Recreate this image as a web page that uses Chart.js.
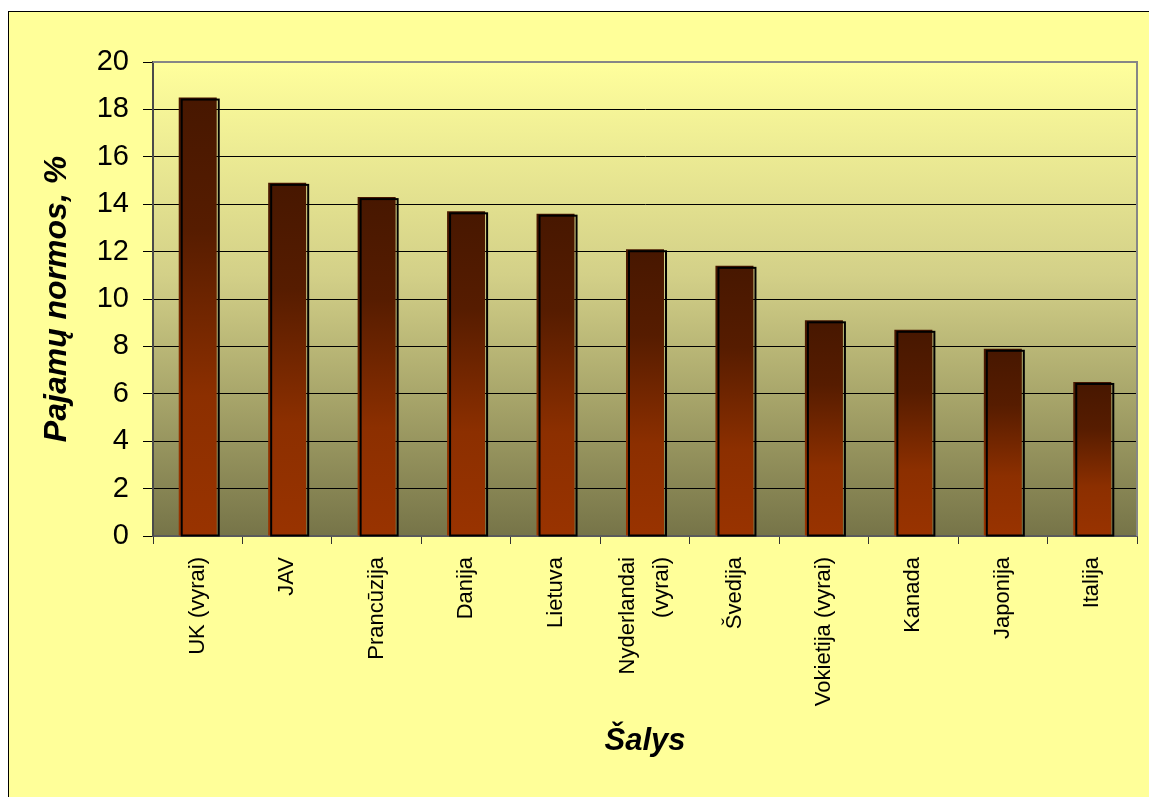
<!DOCTYPE html>
<html>
<head>
<meta charset="utf-8">
<script src="https://cdn.jsdelivr.net/npm/chart.js@4"></script>
<style>
  html, body { margin: 0; padding: 0; background: #fff; }
  #grafikas { position: absolute; left: 0; top: 0; }
</style>
</head>
<body>
<canvas id="grafikas" width="1149" height="797"></canvas>
<script>
const salys = ['UK (vyrai)', 'JAV', 'Prancūzija', 'Danija', 'Lietuva', ['Nyderlandai', '(vyrai)'],
  'Švedija', 'Vokietija (vyrai)', 'Kanada', 'Japonija', 'Italija'];
const normos = [18.5, 14.9, 14.3, 13.7, 13.6, 12.1, 11.4, 9.1, 8.7, 7.9, 6.5];
const yMin = 0, yMax = 20, yStep = 2;

const font = 'Arial, "Liberation Sans", sans-serif';
const canvas = document.getElementById('grafikas');

// fonas, remelis ir braizymo srities gradientas
const fonas = {
  id: 'fonas',
  beforeDraw(chart) {
    const { ctx, chartArea: a } = chart;
    ctx.save();
    ctx.fillStyle = '#ffffff';
    ctx.fillRect(0, 0, chart.width, chart.height);
    ctx.fillStyle = '#ffff99';
    ctx.fillRect(8, 11, chart.width, chart.height);
    ctx.strokeStyle = '#000';
    ctx.lineWidth = 1;
    ctx.strokeRect(8.5, 11.5, chart.width + 10, chart.height + 10);

    const g = ctx.createLinearGradient(0, a.top, 0, a.bottom);
    g.addColorStop(0, '#ffff9c');
    g.addColorStop(0.45, '#d3d088');
    g.addColorStop(1, '#767448');
    ctx.fillStyle = g;
    ctx.fillRect(a.left, a.top, a.right - a.left, a.bottom - a.top);
    ctx.restore();

    // dvieiliu etikeciu centravimas
    const x = chart.scales.x;
    x.getLabelItems().forEach(it => {
      if (Array.isArray(it.label) && it.label.length > 1 && !it.centruota) {
        const lh = it.font.lineHeight;
        it.options.translation[0] -= (it.label.length - 1) * lh / 2;
        it.centruota = true;
      }
    });
  },
  beforeDatasetsDraw(chart) {
    const { ctx, chartArea: a } = chart;
    ctx.save();
    ctx.strokeStyle = '#868686';
    ctx.lineWidth = 2;
    ctx.beginPath();
    ctx.moveTo(a.left, a.top);
    ctx.lineTo(a.right, a.top);
    ctx.lineTo(a.right, a.bottom);
    ctx.stroke();
    ctx.restore();
  },
  afterDatasetsDraw(chart) {
    // stulpeliu "3D" remelis
    const { ctx } = chart;
    ctx.save();
    ctx.strokeStyle = '#000';
    ctx.lineWidth = 2;
    chart.getDatasetMeta(0).data.forEach(b => {
      const l = b.x - b.width / 2;
      ctx.strokeRect(l + 3, b.y + 2, b.width - 1, b.base - b.y - 2);
    });
    ctx.restore();
  }
};

function stulpelioSpalva(c) {
  const chart = c.chart;
  const y = chart.scales.y;
  if (!y || c.raw === undefined) return '#993300';
  const top = y.getPixelForValue(c.raw);
  const base = y.getPixelForValue(0);
  if (!isFinite(top) || !isFinite(base) || top === base) return '#993300';
  const g = chart.ctx.createLinearGradient(0, top, 0, base);
  g.addColorStop(0, '#471700');
  g.addColorStop(0.3, '#561c00');
  g.addColorStop(0.68, '#8c2f00');
  g.addColorStop(1, '#993300');
  return g;
}

new Chart(canvas, {
  type: 'bar',
  data: {
    labels: salys,
    datasets: [{
      data: normos,
      backgroundColor: stulpelioSpalva,
      borderWidth: 0,
      barPercentage: 0.425,
      categoryPercentage: 1
    }]
  },
  options: {
    responsive: false,
    animation: false,
    layout: { padding: { left: 8, top: 62, right: 12, bottom: 0 } },
    plugins: { legend: { display: false }, tooltip: { enabled: false } },
    scales: {
      x: {
        offset: true,
        grid: {
          offset: true,
          drawOnChartArea: false,
          tickLength: 8,
          tickColor: '#333',
          tickWidth: 1
        },
        border: { color: '#5a5a5a', width: 2 },
        ticks: {
          autoSkip: false,
          minRotation: 90,
          maxRotation: 90,
          padding: 13,
          color: '#000',
          font: { family: font, size: 22, lineHeight: 1.55 }
        },
        title: {
          display: true,
          text: 'Šalys',
          color: '#000',
          padding: { top: 0, bottom: 40 },
          font: { family: font, size: 31, weight: 'bold', style: 'italic', lineHeight: 1 }
        },
        afterFit(s) { s.height = 261; }
      },
      y: {
        min: yMin,
        max: yMax,
        ticks: {
          stepSize: yStep,
          padding: 14,
          color: '#000',
          font: { family: font, size: 29 }
        },
        grid: {
          color: '#000',
          lineWidth: 1,
          tickLength: 10,
          tickColor: '#000'
        },
        border: { color: '#4a4a4a', width: 2 },
        title: {
          display: true,
          text: 'Pajamų normos, %',
          color: '#000',
          padding: { top: 33, bottom: 0 },
          font: { family: font, size: 32, weight: 'bold', style: 'italic', lineHeight: 1 }
        },
        afterFit(s) { s.width = 145; }
      }
    }
  },
  plugins: [fonas]
});
</script>
</body>
</html>
